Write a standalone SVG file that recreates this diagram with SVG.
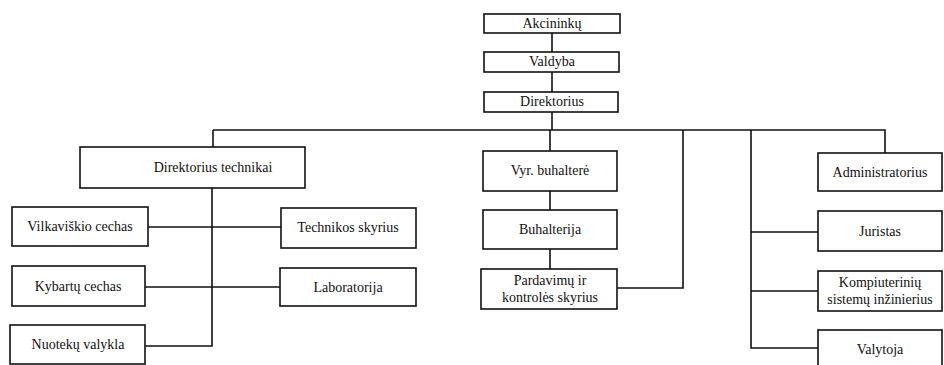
<svg xmlns="http://www.w3.org/2000/svg" width="944" height="365" viewBox="0 0 944 365">
<style>
.box{fill:#fff;stroke:#111;stroke-width:1.6}
.t{font-family:'Liberation Serif','DejaVu Serif',serif;font-size:14px;fill:#111;text-anchor:middle}
.c{fill:none;stroke:#111;stroke-width:1.6}
</style>
<rect width="944" height="365" fill="#fff"/>
<g id="connectors">
<path class="c" d="M552 33V52M552 72V92M552 112V130"/>
<path class="c" d="M213 130H885V153"/>
<path class="c" d="M213 130V147"/>
<path class="c" d="M212 188V346H145"/>
<path class="c" d="M148 227H281"/>
<path class="c" d="M145 287H280"/>
<path class="c" d="M550 130V151M550 191V210M550 249V269"/>
<path class="c" d="M617 288H683V130"/>
<path class="c" d="M751 130V348H818M751 232H818M751 291H818"/>
</g>
<g id="akcininku"><rect class="box" x="484" y="14" width="136" height="19"/><text class="t" x="552" y="28">Akcininkų</text></g>
<g id="valdyba"><rect class="box" x="484" y="52" width="135" height="20"/><text class="t" x="552" y="66">Valdyba</text></g>
<g id="direktorius"><rect class="box" x="484" y="92" width="134" height="20"/><text class="t" x="552" y="106">Direktorius</text></g>
<g id="dir-tech"><rect class="box" x="80" y="147" width="225" height="41"/><text class="t" x="213" y="172">Direktorius technikai</text></g>
<g id="vilkaviskio"><rect class="box" x="12" y="207" width="136" height="39"/><text class="t" x="80" y="231">Vilkaviškio cechas</text></g>
<g id="technikos"><rect class="box" x="281" y="208" width="135" height="40"/><text class="t" x="348" y="232">Technikos skyrius</text></g>
<g id="kybartu"><rect class="box" x="12" y="266" width="133" height="40"/><text class="t" x="78" y="291">Kybartų cechas</text></g>
<g id="laboratorija"><rect class="box" x="280" y="268" width="136" height="38"/><text class="t" x="348" y="292">Laboratorija</text></g>
<g id="nuoteku"><rect class="box" x="10" y="325" width="135" height="39"/><text class="t" x="78" y="349">Nuotekų valykla</text></g>
<g id="vyr-buhaltere"><rect class="box" x="483" y="151" width="134" height="40"/><text class="t" x="550" y="175">Vyr. buhalterė</text></g>
<g id="buhalterija"><rect class="box" x="483" y="210" width="134" height="39"/><text class="t" x="550" y="234">Buhalterija</text></g>
<g id="pardavimu"><rect class="box" x="481" y="269" width="136" height="40"/><text class="t" x="550" y="285">Pardavimų ir</text><text class="t" x="550" y="302">kontrolės skyrius</text></g>
<g id="administratorius"><rect class="box" x="818" y="153" width="124" height="38"/><text class="t" x="880" y="177">Administratorius</text></g>
<g id="juristas"><rect class="box" x="818" y="211" width="124" height="40"/><text class="t" x="880" y="236">Juristas</text></g>
<g id="kompiuteriniu"><rect class="box" x="818" y="271" width="124" height="40"/><text class="t" x="880" y="287">Kompiuterinių</text><text class="t" x="880" y="304">sistemų inžinierius</text></g>
<g id="valytoja"><rect class="box" x="818" y="330" width="124" height="40"/><text class="t" x="880" y="354">Valytoja</text></g>
</svg>
